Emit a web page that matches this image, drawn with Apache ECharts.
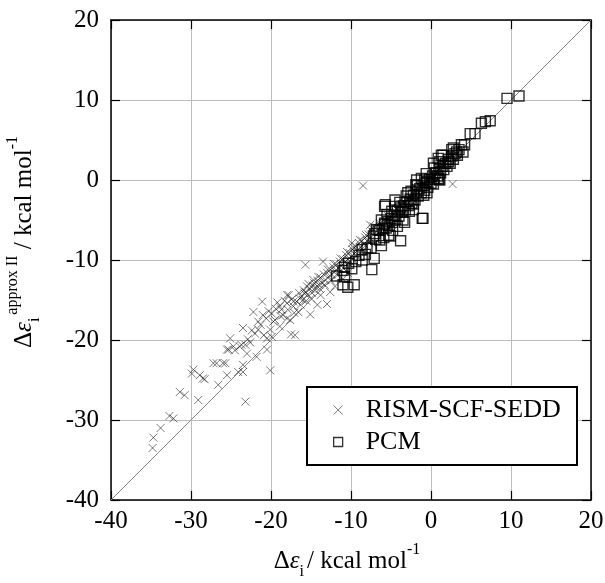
<!DOCTYPE html>
<html><head><meta charset="utf-8">
<script src="https://cdn.jsdelivr.net/npm/echarts@6/dist/echarts.min.js"></script>
<style>html,body{margin:0;padding:0;background:#fff}#c{width:605px;height:583px}</style>
</head><body><div id="c"></div>
<script>
const xTicks = [-40, -30, -20, -10, 0, 10, 20];
const yTicks = [-40, -30, -20, -10, 0, 10, 20];
const diagonal = [[-40, -40], [20, 20]];
const rismData = [
[-34.8,-33.5],[-34.7,-32.2],[-33.8,-31.0],[-32.7,-29.5],[-32.2,-29.8],[-31.4,-26.5],[-30.8,-26.9],[-29.1,-27.5],
[-29.7,-23.7],[-29.9,-24.2],[-28.9,-24.4],[-28.3,-24.9],[-28.5,-24.8],[-27.2,-22.9],[-26.8,-22.9],[-26.0,-22.9],[-25.7,-22.9],
[-26.6,-25.6],[-25.5,-24.4],[-24.1,-24.0],[-23.5,-23.1],[-23.5,-24.0],[-23.2,-27.7],[-20.1,-23.8],
[-25.1,-19.8],[-25.3,-21.2],[-24.5,-21.3],[-23.9,-20.8],[-23.2,-20.6],[-23.0,-21.7],[-21.8,-22.1],[-20.5,-21.2],
[-24.7,-20.8],[-23.7,-20.6],[-25.5,-21.2],[-23.5,-18.5],[-22.4,-18.8],[-22.0,-19.2],[-21.6,-18.7],[-20.9,-19.4],
[-20.5,-19.8],[-22.2,-16.5],[-21.1,-15.2],[-21.6,-17.7],[-19.7,-17.7],[-20.1,-18.7],[-18.9,-15.8],[-18.0,-15.4],
[-17.2,-15.8],[-18.0,-14.4],[-17.2,-15.2],[-17.5,-19.3],[-18.0,-17.3],[-16.6,-16.5],[-19.9,-19.6],[-18.9,-18.3],
[-19.5,-17.5],[-19.9,-16.7],[-17.8,-14.4],[-18.7,-16.2],[-16.4,-14.8],[-15.8,-14.2],[-15.5,-13.3],[-17.0,-19.4],
[-18.5,-16.9],[-17.6,-17.5],
[-22.9,-19.9],[-22.6,-20.3],[-21.3,-18.1],[-21.0,-16.9],[-20.6,-17.3],[-20.3,-16.4],[-19.4,-16.1],[-19.2,-15.3],
[-18.8,-17.0],[-18.3,-15.1],[-17.9,-16.2],[-17.4,-14.9],[-17.1,-16.6],[-16.8,-15.2],[-16.5,-14.1],[-16.3,-15.6],
[-15.9,-13.8],[-15.6,-15.1],[-15.3,-13.0],[-14.9,-14.1],[-14.7,-12.5],[-14.4,-13.4],[-14.1,-12.1],[-13.9,-13.6],
[-13.3,-13.1],[-12.9,-11.2],[-12.5,-12.6],[-12.1,-10.5],[-11.7,-11.9],[-11.3,-9.8],[-10.9,-11.1],[-10.5,-9.0],
[-10.1,-10.2],[-9.7,-8.4],[-9.3,-9.5],[-8.9,-7.5],[-8.5,-8.8],[-8.1,-6.9],[-7.7,-7.9],[-7.3,-6.1],
[-16.2,-14.6],[-16.0,-15.0],[-15.7,-14.0],[-15.4,-14.3],[-15.1,-13.6],[-15.0,-14.8],[-14.8,-13.2],[-14.6,-12.9],
[-14.5,-13.8],[-14.2,-12.6],[-14.0,-13.1],[-13.8,-12.2],[-13.6,-12.9],[-13.4,-11.8],[-13.2,-12.5],[-13.0,-11.6],
[-12.8,-12.1],[-12.6,-11.2],[-12.4,-11.8],[-12.2,-10.9],[-12.0,-11.4],[-11.8,-10.6],[-11.6,-11.0],[-11.4,-10.2],
[-11.2,-10.7],[-11.0,-9.9],[-10.8,-10.3],[-10.6,-9.4],[-10.4,-9.9],[-10.2,-9.1],[-10.0,-9.6],[-9.8,-8.7],
[-9.6,-9.2],[-9.4,-8.3],[-9.2,-8.8],[-9.0,-7.9],[-8.8,-8.4],[-8.6,-7.6],[-8.4,-8.0],[-8.2,-7.2],[-8.0,-7.6],
[-7.8,-6.8],[-7.6,-7.3],[-7.4,-6.4],[-7.2,-5.8],[-7.0,-6.6],[-6.8,-5.9],[-6.6,-6.2],[-6.4,-5.4],[-6.2,-5.8],
[-15.1,-16.8],[-13.0,-15.5],[-14.2,-15.6],[-12.0,-13.3],[-11.0,-12.4],[-10.4,-11.6],[-9.5,-10.2],[-13.8,-14.4],[-12.6,-14.0],
[-8.5,-0.7],[-15.7,-10.6],[2.7,-0.5],[-13.5,-10.2],[-9.9,-7.9],[-7.6,-5.6],
[-5.8,-4.9],[-5.4,-4.5],[-5.0,-4.6],[-4.6,-3.8],[-4.2,-3.6],[-3.8,-3.0],[-3.4,-2.9],[-3.0,-2.3],[-2.6,-2.1],
[-2.2,-1.6],[-1.8,-1.4],[-1.4,-0.8],[-1.0,-0.6],[-0.6,-0.1],[-0.2,0.3],[0.2,0.5],[0.6,1.0],[1.0,1.3],[1.4,1.9],
[1.8,2.2],[2.2,2.6],[2.6,3.0],[3.0,3.4],[-4.9,-5.6],[-3.5,-4.1],[-2.0,-2.6]
];
const pcmData = [
[-7.4,-11.2],[-7.1,-9.8],[-9.6,-13.1],[-10.4,-13.4],[-11.0,-13.1],[-11.8,-12.0],[-10.8,-10.9],[-10.3,-10.4],
[-9.4,-10.2],[-8.6,-8.7],[-8.0,-8.5],[-7.5,-8.5],[-6.2,-8.2],[-3.8,-7.6],[-5.1,-7.0],[-7.2,-7.0],[-6.8,-6.2],
[-6.2,-5.0],[-5.7,-3.1],[-1.1,-4.8],[-3.3,-5.3],[-4.5,-2.5],[-2.2,-3.7],[1.0,0.1],[1.5,3.1],[-5.3,-6.9],
[-1.8,0.0],[-0.5,-0.2],[1.1,0.0],[2.2,2.3],[9.5,10.2],[11.0,10.5],[7.4,7.4],[6.8,7.3],[6.3,7.1],[5.5,5.8],
[4.9,5.8],[4.2,4.4],[3.8,4.4],[2.6,3.8],[1.3,3.1],[0.3,2.1],[0.9,0.2],[-0.8,0.0],[2.8,4.0],[3.2,3.5],[4.0,3.5],
[-11.0,-11.3],[-6.4,-7.5],[-7.0,-6.7],[-5.8,-5.6],[-5.8,-3.3],
[-6.0,-6.1],[-5.8,-5.4],[-5.6,-6.0],[-5.4,-5.2],[-5.2,-5.7],[-5.0,-4.8],[-4.8,-5.3],[-4.6,-4.4],[-4.4,-4.9],
[-4.2,-3.9],[-4.0,-4.5],[-3.8,-3.5],[-3.6,-4.0],[-3.4,-3.2],[-3.2,-3.7],[-3.0,-2.7],[-2.8,-3.2],[-2.6,-2.4],
[-2.4,-2.9],[-2.2,-1.9],[-2.0,-2.5],[-1.8,-1.5],[-1.6,-2.0],[-1.4,-1.1],[-1.2,-1.6],[-1.0,-0.7],[-0.8,-1.3],
[-0.6,-0.3],[-0.4,-0.9],[-0.2,0.1],[0.0,-0.4],[0.2,0.5],[0.4,0.1],[0.6,0.9],[0.8,0.5],[1.0,1.3],[1.2,0.9],
[1.4,1.7],[1.6,1.3],[1.8,2.1],[2.0,1.7],[2.2,2.6],[2.4,2.1],[2.6,3.0],[2.8,2.6],[3.0,3.3],[3.3,3.1],[3.5,3.8],
[-4.5,-3.3],[-3.9,-2.8],[-3.1,-2.0],[-2.5,-1.4],[-1.7,-0.7],[-4.8,-6.3],[-3.5,-5.0],[-2.7,-3.9],[-0.9,-1.9],
[-5.5,-4.3],[-6.5,-6.3],[-6.9,-7.4],[-5.9,-7.2],[-4.2,-5.8],[-4.9,-3.9],[-2.9,-1.6],[-1.9,-0.6],[-1.2,0.2],
[-0.6,0.8],[0.4,1.5],[1.1,2.3],[-2.2,-3.0],[-0.5,-1.6],[0.3,-0.5],[-8.2,-9.3],[-9.0,-9.4],[-8.6,-10.0],
[-9.9,-11.1],[-10.8,-12.1],[0.9,2.7],[-1.0,-4.8]
];
const seriesNames = ['RISM-SCF-SEDD', 'PCM'];

const FONT = '"Liberation Serif", "DejaVu Serif", serif';
const CROSS = 'path://M0,0L10,10M10,0L0,10';
const chart = echarts.init(document.getElementById('c'), null, {renderer: 'canvas'});
const axisCommon = {
  type: 'value', min: -40, max: 20, interval: 10,
  axisLine: {show: true, onZero: false, lineStyle: {color: '#000', width: 1.5}},
  axisTick: {show: true, inside: true, length: 9, lineStyle: {color: '#000', width: 1.2}},
  splitLine: {show: true, lineStyle: {color: '#bcbcbc', width: 1}},
};
const nameRich = {
  a: {fontFamily: FONT, fontSize: 25, color: '#000', lineHeight: 38},
  e: {fontFamily: FONT, fontSize: 25, fontStyle: 'italic', color: '#000', lineHeight: 38},
  sub: {fontFamily: FONT, fontSize: 16, color: '#000', verticalAlign: 'bottom', lineHeight: 38, padding: [0, 3, 0, 0]},
  sup: {fontFamily: FONT, fontSize: 16, color: '#000', verticalAlign: 'top', lineHeight: 38}
};
chart.setOption({
  animation: false,
  backgroundColor: '#fff',
  grid: {left: 111, right: 14, top: 20, bottom: 83, containLabel: false, outerBoundsMode: 'none'},
  xAxis: [
    Object.assign({}, axisCommon, {
      position: 'bottom',
      axisLabel: {fontFamily: FONT, fontSize: 25, color: '#000', margin: 9,
        formatter: v => xTicks.includes(v) ? String(v) : ''},
      name: '{a|Δ}{e|ε}{sub|i}{a|/ kcal mol}{sup|-1}',
      nameLocation: 'middle', nameGap: 42,
      nameTextStyle: {rich: nameRich, padding: [0, 8, 0, 0]}
    }),
    Object.assign({}, axisCommon, {position: 'top', axisLabel: {show: false}, splitLine: {show: false}})
  ],
  yAxis: [
    Object.assign({}, axisCommon, {
      position: 'left',
      axisLabel: {fontFamily: FONT, fontSize: 25, color: '#000', margin: 12,
        formatter: v => yTicks.includes(v) ? String(v) : ''},
      name: '{a|Δ}{e|ε}{sub|i}{sup|approx II}{a| / kcal mol}{sup|-1}',
      nameLocation: 'middle', nameGap: 68, nameRotate: 90,
      nameTextStyle: {rich: nameRich, padding: [0, 0, 0, 36]}
    }),
    Object.assign({}, axisCommon, {position: 'right', axisLabel: {show: false}, splitLine: {show: false}})
  ],
  legend: {
    left: 333, top: 397, orient: 'vertical', itemGap: 6, itemWidth: 9, itemHeight: 9, padding: 0,
    textStyle: {fontFamily: FONT, fontSize: 26, color: '#000', padding: [0, 0, 0, 18]},
    z: 30,
    data: [
      {name: seriesNames[0], icon: CROSS, itemStyle: {color: 'transparent', borderColor: '#555', borderWidth: 1}},
      {name: seriesNames[1], icon: 'rect', itemStyle: {color: 'transparent', borderColor: '#000', borderWidth: 1.3}}
    ]
  },
  graphic: [{
    type: 'rect', left: 306, top: 386, z: 20,
    shape: {width: 270, height: 78},
    style: {fill: '#fff', stroke: '#000', lineWidth: 2}
  }],
  series: [
    {
      type: 'line', data: diagonal, symbol: 'none', silent: true,
      lineStyle: {color: '#888', width: 1}, z: 1, legendHoverLink: false
    },
    {
      name: seriesNames[0], type: 'scatter', data: rismData, symbol: CROSS, symbolSize: 8,
      itemStyle: {color: 'transparent', borderColor: 'rgba(20,20,20,0.7)', borderWidth: 1}, z: 3
    },
    {
      name: seriesNames[1], type: 'scatter', data: pcmData, symbol: 'rect', symbolSize: 10,
      itemStyle: {color: 'transparent', borderColor: '#000', borderWidth: 1.4}, z: 4
    }
  ]
});
</script></body></html>
